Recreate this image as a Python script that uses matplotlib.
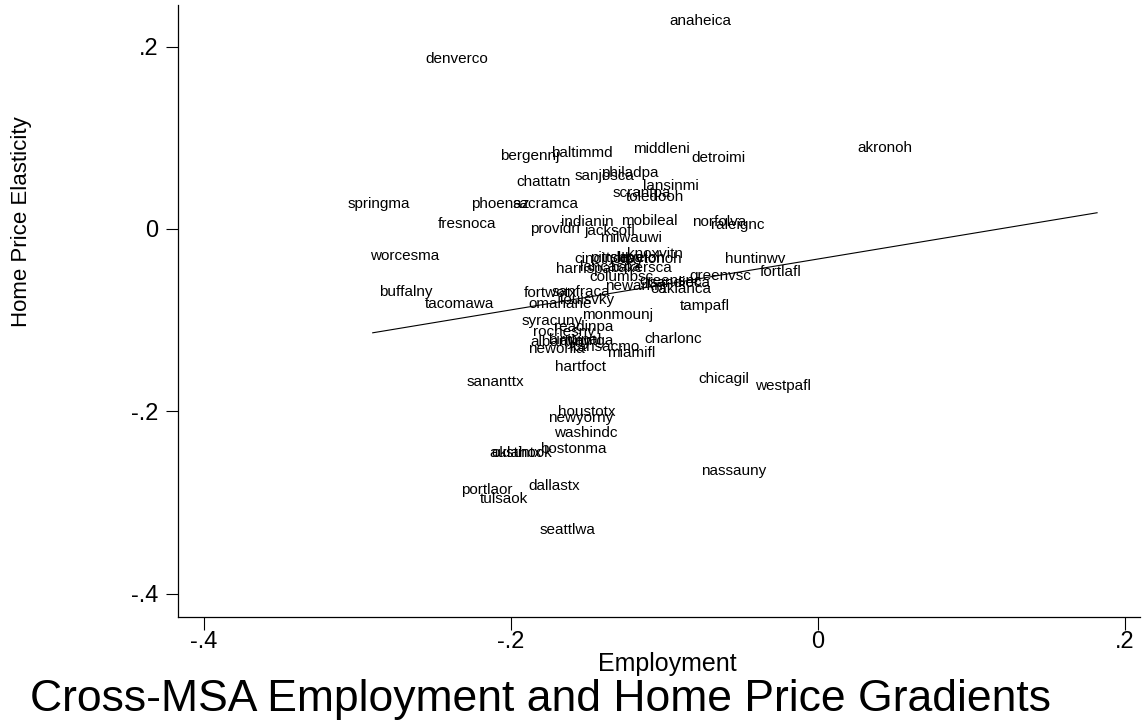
import numpy as np
import matplotlib.pyplot as plt

plt.rcParams['font.family'] = ['Liberation Sans', 'DejaVu Sans']

# MSA labels with (employment gradient, home price elasticity)
msa = ['anaheica', 'denverco', 'akronoh', 'baltimmd', 'middleni', 'bergennj', 'detroimi',
       'sanjosca', 'philadpa', 'chattatn', 'lansinmi', 'scrantpa', 'toledooh', 'springma',
       'phoenaz', 'sacramca', 'fresnoca', 'providri', 'indianin', 'jacksofl', 'mobileal',
       'norfolva', 'raleignc', 'milwauwi', 'worcesma', 'knoxvitn', 'cincinoh', 'pittsbpa',
       'cleveloh', 'daytonoh', 'huntinwv', 'harrispa', 'lancaspa', 'bakersca', 'fortlafl',
       'greenvsc', 'columbsc', 'greensnc', 'sandieca', 'newarknj', 'oaklanca', 'fortwotx',
       'sanfraca', 'louisvky', 'buffalny', 'tacomawa', 'omahane', 'tampafl', 'monmounj',
       'syracuny', 'rochesny', 'readinpa', 'charlonc', 'albanyny', 'atlantga', 'birminal',
       'kansacmo', 'neworlla', 'miamifl', 'hartfoct', 'sananttx', 'chicagil', 'westpafl',
       'houstotx', 'newyorny', 'washindc', 'bostonma', 'austintx', 'oklahook', 'nassauny',
       'dallastx', 'portlaor', 'tulsaok', 'seattlwa']

employment = [-0.0964, -0.2554, 0.0261, -0.1739, -0.1205, -0.2072, -0.0821,
              -0.1583, -0.1414, -0.1961, -0.1140, -0.1336, -0.1251, -0.3062,
              -0.2261, -0.1987, -0.2476, -0.1876, -0.1674, -0.1518, -0.1283,
              -0.0821, -0.0697, -0.1420, -0.2919, -0.1244, -0.1583, -0.1485,
              -0.1355, -0.1290, -0.0606, -0.1707, -0.1550, -0.1355, -0.0378,
              -0.0834, -0.1485, -0.1160, -0.1094, -0.1388, -0.1088, -0.1915,
              -0.1733, -0.1681, -0.2860, -0.2560, -0.1883, -0.0899, -0.1537,
              -0.1928, -0.1857, -0.1720, -0.1127, -0.1870, -0.1681, -0.1759,
              -0.1616, -0.1889, -0.1375, -0.1713, -0.2287, -0.0775, -0.0410,
              -0.1694, -0.1759, -0.1720, -0.1811, -0.2137, -0.2130, -0.0762,
              -0.1883, -0.2326, -0.2202, -0.1811]

elasticity = [0.228, 0.1865, 0.0889, 0.0834, 0.0878, 0.0801, 0.0779,
              0.0581, 0.0614, 0.0516, 0.0472, 0.0395, 0.0351, 0.0274,
              0.0274, 0.0274, 0.0055, 0.0, 0.0077, -0.0022, 0.0088,
              0.0077, 0.0044, -0.0099, -0.0296, -0.0274, -0.0329, -0.0318,
              -0.0318, -0.0329, -0.0329, -0.0439, -0.0417, -0.0428, -0.0472,
              -0.0516, -0.0527, -0.0570, -0.0592, -0.0625, -0.0658, -0.0702,
              -0.0691, -0.0779, -0.0691, -0.0823, -0.0823, -0.0845, -0.0944,
              -0.1009, -0.1130, -0.1075, -0.1207, -0.1240, -0.1229, -0.1218,
              -0.1295, -0.1317, -0.1360, -0.1514, -0.1679, -0.1646, -0.1722,
              -0.2008, -0.2074, -0.2238, -0.2414, -0.2457, -0.2457, -0.2655,
              -0.2820, -0.2863, -0.2962, -0.3302]

# fitted line
fit_range = [-0.29, 0.182]
fit_slope = 0.279
fit_intercept = -0.033

fig = plt.figure(figsize=(11.46, 7.21), dpi=100)
ax = fig.add_axes([0.1553, 0.1442, 0.8395, 0.8489])

for name, x, y in zip(msa, employment, elasticity):
    ax.text(x, y, name, fontsize=11, ha='left', va='center', color='black')

fx = np.array(fit_range)
ax.plot(fx, fit_intercept + fit_slope * fx, color='black', lw=0.8)

ax.set_xlim(-0.4169, 0.21)
ax.set_ylim(-0.4257, 0.2457)
ax.set_xticks([-0.4, -0.2, 0, 0.2])
ax.set_xticklabels(['-.4', '-.2', '0', '.2'])
ax.set_yticks([-0.4, -0.2, 0, 0.2])
ax.set_yticklabels(['-.4', '-.2', '0', '.2'])
ax.tick_params(labelsize=17, length=9, width=0.8)
ax.tick_params(axis='x', pad=1)
ax.tick_params(axis='y', pad=5)

ax.spines['top'].set_visible(False)
ax.spines['right'].set_visible(False)
for s in ['left', 'bottom']:
    ax.spines[s].set_linewidth(0.9)

fig.text(667 / 1146, 1 - 664 / 721, 'Employment', fontsize=18, ha='center', va='center')
fig.text(22 / 1146, 1 - 222 / 721, 'Home Price Elasticity', fontsize=16,
         rotation=90, ha='center', va='center')
fig.text(540 / 1146, 1 - 700 / 721, 'Cross-MSA Employment and Home Price Gradients',
         fontsize=32, ha='center', va='center')

fig.savefig('out.png', dpi=100)
